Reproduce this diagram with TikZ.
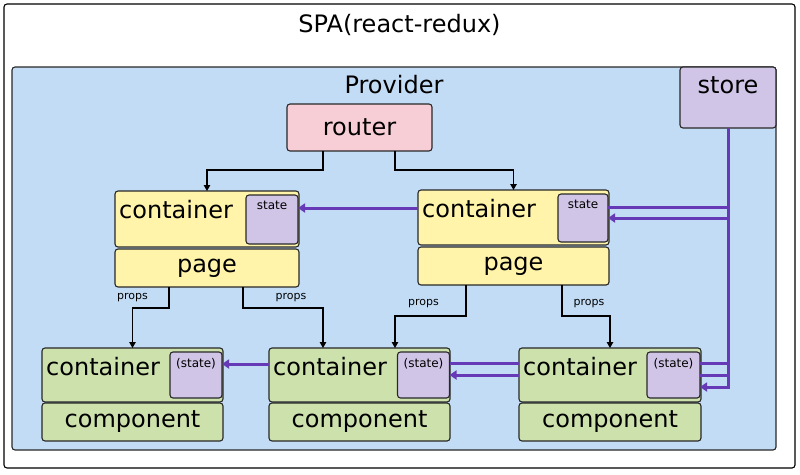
\documentclass[tikz,border=0pt]{standalone}
\usepackage{fontspec}
\setmainfont{DejaVu Sans}
\usetikzlibrary{arrows.meta, positioning, calc}

\definecolor{boxline}{RGB}{40,40,40}
\definecolor{provblue}{RGB}{194,220,245}
\definecolor{storefill}{RGB}{208,197,230}
\definecolor{routerfill}{RGB}{248,206,214}
\definecolor{pagefill}{RGB}{255,244,170}
\definecolor{compfill}{RGB}{205,225,172}
\definecolor{storeline}{RGB}{102,58,182}

\begin{document}
\begin{tikzpicture}[x=1pt, y=-1pt,
    box/.style={rectangle, draw=boxline, line width=1.1pt, rounded corners=3pt, inner sep=0pt, outer sep=0pt},
    statebox/.style={box, fill=storefill, minimum width=52pt, minimum height=46pt},
    bigtext/.style={font=\fontsize{24}{28}\selectfont, inner sep=0pt},
    smalltext/.style={font=\fontsize{12}{14}\selectfont, inner sep=0pt},
    propstext/.style={font=\fontsize{11}{13}\selectfont, inner sep=1pt},
    arrow/.style={-{Triangle[length=6pt,width=6.5pt]}, line width=1.2pt},
    sline/.style={draw=storeline, line width=3pt},
    sarrow/.style={sline, -{Triangle[length=7pt,width=9pt]}}]

    \useasboundingbox (0,0) rectangle (800,474);

    \node[box, draw=black, fill=white, minimum width=791pt, minimum height=464pt] (spa) at (399.5,236) {};
    \node[bigtext, anchor=base] (spatext) at ([yshift=-28pt]spa.north) {SPA(react-redux)};

    \node[box, fill=provblue, minimum width=764pt, minimum height=383pt] (prov) at (394,258.5) {};
    \node[bigtext, anchor=base] (provtext) at ([yshift=-26pt]prov.north) {Provider};

    \node[box, fill=storefill, minimum width=96pt, minimum height=61pt] (store) at (728,97.5) {};
    \node[bigtext, anchor=base] (storetext) at ([yshift=-26pt]store.north) {store};

    \node[box, fill=routerfill, minimum width=145pt, minimum height=47pt] (router) at (359.5,127.5) {};
    \node[bigtext] (routertext) at (router) {router};

    \node[box, fill=pagefill, minimum width=184pt, minimum height=56pt] (cont1) at (207,219) {};
    \node[bigtext, anchor=base west] (cont1text) at ([shift={(4pt,-27pt)}]cont1.north west) {container};
    \node[statebox, minimum height=49pt] (state1) at (272,219.5) {};
    \node[smalltext, anchor=base] (state1text) at ([yshift=-14pt]state1.north) {state};
    \node[box, fill=pagefill, minimum width=184pt, minimum height=38pt] (page1) at (207,268) {};
    \node[bigtext] (page1text) at (page1) {page};

    \node[box, fill=pagefill, minimum width=191pt, minimum height=55pt] (cont2) at (513.5,217.5) {};
    \node[bigtext, anchor=base west] (cont2text) at ([shift={(4pt,-27pt)}]cont2.north west) {container};
    \node[statebox, minimum width=50pt, minimum height=48pt] (state2) at (583,218) {};
    \node[smalltext, anchor=base] (state2text) at ([yshift=-14pt]state2.north) {state};
    \node[box, fill=pagefill, minimum width=191pt, minimum height=38pt] (page2) at (513.5,266) {};
    \node[bigtext] (page2text) at (page2) {page};

    \node[box, fill=compfill, minimum width=181pt, minimum height=54pt] (cont3) at (132.5,375) {};
    \node[bigtext, anchor=base west] (cont3text) at ([shift={(4pt,-27pt)}]cont3.north west) {container};
    \node[statebox] (state3) at (196,375) {};
    \node[smalltext, anchor=base] (state3text) at ([yshift=-15pt]state3.north) {(state)};
    \node[box, fill=compfill, minimum width=181pt, minimum height=38pt] (comp3) at (132.5,422) {};
    \node[bigtext] (comp3text) at (comp3) {component};

    \node[box, fill=compfill, minimum width=181pt, minimum height=54pt] (cont4) at (359.5,375) {};
    \node[bigtext, anchor=base west] (cont4text) at ([shift={(4pt,-27pt)}]cont4.north west) {container};
    \node[statebox] (state4) at (423.5,375) {};
    \node[smalltext, anchor=base] (state4text) at ([yshift=-15pt]state4.north) {(state)};
    \node[box, fill=compfill, minimum width=181pt, minimum height=38pt] (comp4) at (359.5,422) {};
    \node[bigtext] (comp4text) at (comp4) {component};

    \node[box, fill=compfill, minimum width=182pt, minimum height=54pt] (cont5) at (610,375) {};
    \node[bigtext, anchor=base west] (cont5text) at ([shift={(4pt,-27pt)}]cont5.north west) {container};
    \node[statebox, minimum width=53pt] (state5) at (673.5,375) {};
    \node[smalltext, anchor=base] (state5text) at ([yshift=-15pt]state5.north) {(state)};
    \node[box, fill=compfill, minimum width=182pt, minimum height=38pt] (comp5) at (610,422) {};
    \node[bigtext] (comp5text) at (comp5) {component};

    \draw[arrow] ([xshift=-36.5pt]router.south) -- ++(0,19) -| (cont1.north);
    \draw[arrow] ([xshift=35.5pt]router.south) -- ++(0,19) -| (cont2.north);

    \draw[arrow] ([xshift=-38pt]page1.south) -- ++(0,21) -| node[propstext, pos=0.5, above=5pt] (props1) {props} (cont3.north);
    \draw[arrow] ([xshift=36pt]page1.south) -- ++(0,21) -| node[propstext, pos=0.3, above=5pt] (props2) {props} ([xshift=-36.5pt]cont4.north);
    \draw[arrow] ([xshift=-47.5pt]page2.south) -- ++(0,31) -| node[propstext, pos=0.3, above=7pt] (props3) {props} ([xshift=35.5pt]cont4.north);
    \draw[arrow] ([xshift=48.5pt]page2.south) -- ++(0,31) -| node[propstext, pos=0.28, above=7pt] (props4) {props} (cont5.north);

    \draw[sarrow] ([yshift=9.5pt]cont2.west) -- ([yshift=9.5pt]cont2.west -| state1.east);
    \draw[sline] ([yshift=11pt]state2.east) -- ([yshift=11pt]state2.east -| store.south);
    \draw[sarrow] (store.south) |- (state2.east);
    \draw[sarrow] (store.south) |- ([yshift=-12pt]state5.east);
    \draw[sline] ([yshift=12pt]state5.east) -- ([yshift=12pt]state5.east -| store.south);
    \draw[sline] (state5.east) -- (state5.east -| store.south);
    \draw[sline] ([yshift=12pt]cont5.west) -- ([yshift=12pt]cont5.west -| state4.east);
    \draw[sarrow] (cont5.west) -- (cont5.west -| state4.east);
    \draw[sarrow] ([yshift=11pt]cont4.west) -- ([yshift=11pt]cont4.west -| state3.east);
\end{tikzpicture}
\end{document}
